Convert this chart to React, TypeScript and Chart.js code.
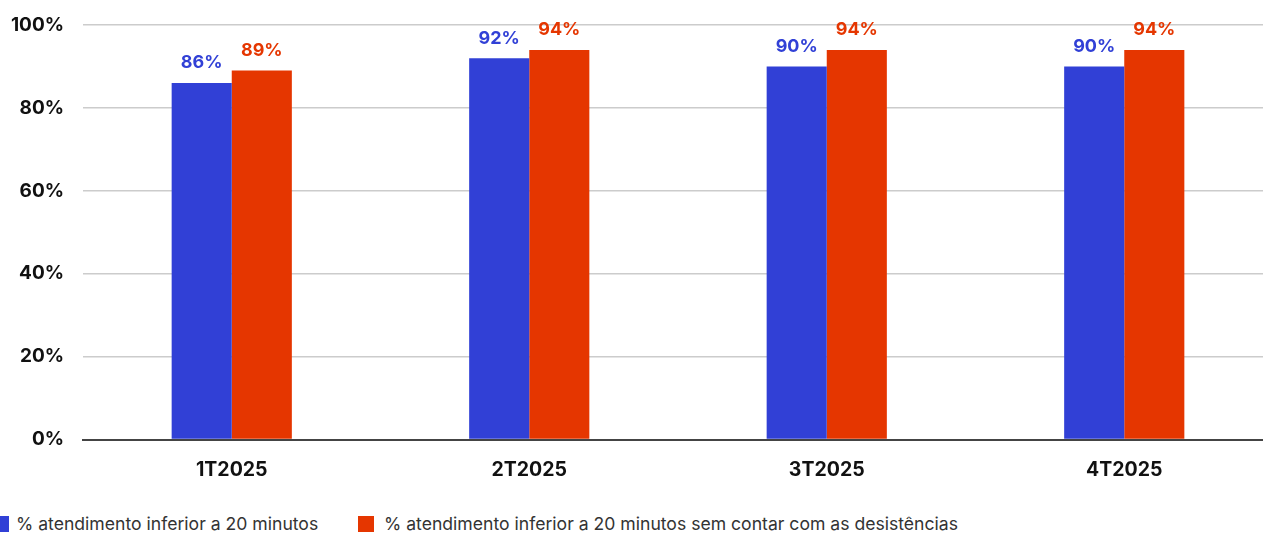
import React, { useEffect, useRef } from "react";
import { Chart, registerables } from "chart.js";

Chart.register(...registerables);

const categories = ["1T2025", "2T2025", "3T2025", "4T2025"];
const seriesNames = [
  "% atendimento inferior a 20 minutos",
  "% atendimento inferior a 20 minutos sem contar com as desistências",
];
const series1 = [86, 92, 90, 90];
const series2 = [89, 94, 94, 94];
const yTicks = [0, 20, 40, 60, 80, 100];

const BLUE = "#3140d6";
const RED = "#e53600";
const FONT = "Inter, 'Noto Sans', sans-serif";

const labelPlugin = {
  id: "barValueLabels",
  afterDatasetsDraw(chart: any) {
    const ctx = chart.ctx;
    ctx.save();
    chart.data.datasets.forEach((ds: any, i: number) => {
      const meta = chart.getDatasetMeta(i);
      ctx.fillStyle = ds.backgroundColor;
      ctx.font = `bold 18px ${FONT}`;
      ctx.textAlign = "center";
      ctx.textBaseline = "bottom";
      meta.data.forEach((el: any, j: number) => {
        ctx.fillText(ds.data[j] + "%", el.x, el.y - 11);
      });
    });
    ctx.restore();
  },
};

export default function App() {
  const ref = useRef<HTMLCanvasElement | null>(null);
  useEffect(() => {
    if (!ref.current) return;
    const chart = new Chart(ref.current, {
      type: "bar",
      data: {
        labels: categories,
        datasets: [
          { label: seriesNames[0], data: series1, backgroundColor: BLUE, categoryPercentage: 0.404, barPercentage: 1.0 },
          { label: seriesNames[1], data: series2, backgroundColor: RED, categoryPercentage: 0.404, barPercentage: 1.0 },
        ],
      },
      options: {
        responsive: false,
        animation: false,
        layout: { padding: { top: 25, bottom: 0, left: 0, right: 0 } },
        plugins: { legend: { display: false }, tooltip: { enabled: false } },
        scales: {
          x: {
            grid: { display: false, drawTicks: false },
            border: { display: true, color: "#444", width: 2 },
            ticks: { color: "#111", font: { family: FONT, size: 19.5, weight: "bold" }, padding: 19 },
          },
          y: {
            min: 0,
            max: 100,
            afterFit(scale: any) {
              scale.width = 83;
              scale.paddingTop = 0;
            },
            afterBuildTicks(scale: any) {
              scale.ticks = yTicks.map((v) => ({ value: v }));
            },
            grid: { color: "#cccccc", drawTicks: false, lineWidth: 1.5 },
            border: { display: false },
            ticks: {
              color: "#111",
              font: { family: FONT, size: 19, weight: "bold" },
              padding: 19,
              callback: (v: any) => v + "%",
            },
          },
        },
      },
      plugins: [labelPlugin],
    } as any);
    return () => chart.destroy();
  }, []);

  const legendItem = (color: string, text: string, boxLeft: number, textLeft: number) => (
    <>
      <div style={{ position: "absolute", left: boxLeft, top: 516, width: 16, height: 16, background: color }} />
      <div
        style={{
          position: "absolute",
          left: textLeft,
          top: 513,
          fontFamily: FONT,
          fontSize: 17.6,
          color: "#333",
          whiteSpace: "nowrap",
          lineHeight: "22px",
        }}
      >
        {text}
      </div>
    </>
  );

  return (
    <div style={{ position: "absolute", left: 0, top: 0, width: 1263, height: 533, overflow: "hidden", background: "#fff" }}>
      <canvas ref={ref} width={1273} height={501} style={{ position: "absolute", left: 0, top: 0 }} />
      {legendItem(BLUE, seriesNames[0], -7, 16)}
      {legendItem(RED, seriesNames[1], 358, 384)}
    </div>
  );
}
